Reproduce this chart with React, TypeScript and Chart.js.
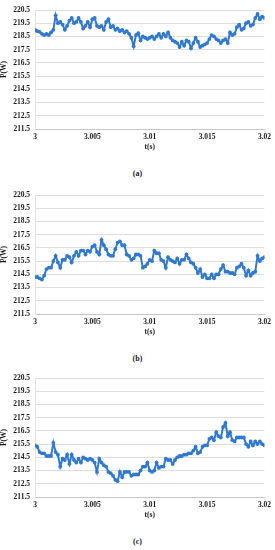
import React, { useEffect, useRef } from "react";
import { Chart, registerables } from "chart.js";

Chart.register(...registerables);

const times = [
  3.0, 3.0002, 3.0004, 3.0006, 3.0008, 3.001, 3.0012, 3.0014, 3.0016, 3.0018,
  3.002, 3.0022, 3.0024, 3.0026, 3.0028, 3.003, 3.0032, 3.0034, 3.0036, 3.0038,
  3.004, 3.0042, 3.0044, 3.0046, 3.0048, 3.005, 3.0052, 3.0054, 3.0056, 3.0058,
  3.006, 3.0062, 3.0064, 3.0066, 3.0068, 3.007, 3.0072, 3.0074, 3.0076, 3.0078,
  3.008, 3.0082, 3.0084, 3.0086, 3.0088, 3.009, 3.0092, 3.0094, 3.0096, 3.0098,
  3.01, 3.0102, 3.0104, 3.0106, 3.0108, 3.011, 3.0112, 3.0114, 3.0116, 3.0118,
  3.012, 3.0122, 3.0124, 3.0126, 3.0128, 3.013, 3.0132, 3.0134, 3.0136, 3.0138,
  3.014, 3.0142, 3.0144, 3.0146, 3.0148, 3.015, 3.0152, 3.0154, 3.0156, 3.0158,
  3.016, 3.0162, 3.0164, 3.0166, 3.0168, 3.017, 3.0172, 3.0174, 3.0176, 3.0178,
  3.018, 3.0182, 3.0184, 3.0186, 3.0188, 3.019, 3.0192, 3.0194, 3.0196, 3.0198,
  3.02,
];

const powerA = [
  219.0, 218.9, 218.85, 218.7, 218.6, 218.7, 218.6, 218.8, 219.0, 220.1,
  219.5, 219.6, 219.4, 219.0, 219.3, 219.7, 219.9, 219.5, 219.6, 219.9,
  219.6, 219.1, 219.3, 219.6, 219.2, 219.8, 219.9, 219.3, 219.2, 219.3,
  219.0, 219.6, 219.8, 219.2, 219.3, 219.0, 219.1, 218.9, 219.0, 218.8,
  218.9, 218.7, 218.4, 217.75, 218.6, 218.75, 218.2, 218.5, 218.4, 218.3,
  218.4, 218.5, 218.3, 218.5, 218.7, 218.4, 218.7, 218.5, 218.8, 218.4,
  218.2, 218.1, 218.0, 217.7, 218.1, 217.8, 218.2, 218.1, 217.6, 218.0,
  218.4, 218.1, 217.7, 217.8, 217.9, 218.0, 218.3, 218.6, 218.5, 218.3,
  218.2, 218.0, 218.2, 218.3, 218.0, 218.8, 218.6, 218.7, 219.2, 219.4,
  219.0, 219.1, 219.5, 219.6, 219.3, 219.4, 219.9, 220.2, 219.8, 220.0,
  219.9,
];

const powerB = [
  214.3, 214.3, 214.2, 214.1, 214.4, 214.9, 215.0, 215.0, 215.5, 215.9,
  215.4, 215.0, 215.6, 215.6, 215.9, 215.8, 215.4, 215.9, 216.2, 215.9,
  216.3, 216.3, 216.0, 216.3, 216.2, 216.6, 216.7, 216.2, 216.0, 217.1,
  216.7, 216.4, 216.0, 215.9, 215.9, 216.4, 216.9, 217.0, 216.7, 216.7,
  216.0, 215.9, 215.6, 215.7, 216.0, 216.0, 215.9, 215.0, 215.1, 215.3,
  215.6, 215.5, 216.3, 216.1, 216.1, 215.6, 215.5, 215.0, 215.8, 215.6,
  215.5, 215.4, 215.7, 215.3, 215.6, 215.6, 216.0, 215.7, 215.4, 215.3,
  215.0, 214.6, 214.9, 214.3, 214.5, 214.2, 214.2, 214.5, 214.2, 214.5,
  214.5, 214.9, 215.2, 214.7, 214.7, 214.6, 214.6, 214.5, 215.0, 215.1,
  215.3, 215.0, 214.4, 214.8, 214.4, 214.6, 214.7, 215.9, 215.5, 215.7,
  215.8,
];

const powerC = [
  215.4, 215.3, 214.9, 214.8, 214.8, 214.6, 214.6, 214.6, 215.6, 214.9,
  214.7, 213.8, 214.4, 214.3, 214.7, 214.0, 214.7, 214.3, 214.1, 214.4,
  214.1, 214.5, 214.4, 214.3, 214.4, 214.3, 214.1, 213.4, 214.4, 214.1,
  213.9, 213.8, 213.4, 213.3, 213.1, 212.8, 212.7, 213.4, 213.0, 213.4,
  213.4, 213.4, 213.1, 213.2, 213.2, 213.2, 213.5, 213.8, 213.8, 214.1,
  213.5, 213.4, 213.5, 214.1, 213.7, 213.8, 213.8, 214.4, 214.3, 214.3,
  214.0, 214.3, 214.5, 214.6, 214.6, 214.7, 214.7, 214.8, 214.8, 215.0,
  215.3, 214.8, 214.9, 215.3, 215.4, 215.4, 215.9, 216.0, 215.8, 216.4,
  216.1, 216.0, 216.8, 217.1, 216.1, 216.4, 215.8, 215.7, 216.0, 216.0,
  216.0, 216.0, 215.5, 215.3, 215.7, 215.4, 215.7, 215.5, 215.7, 215.5,
  215.4,
];

const yMin = 211.5;
const yMax = 220.5;
const xMin = 3;
const xMax = 3.02;

const FONT = "'Liberation Serif', 'Times New Roman', serif";
const LINE = "#2f78d3";

function Panel({ values, caption, top }: { values: number[]; caption: string; top: number }) {
  const ref = useRef<HTMLCanvasElement | null>(null);
  useEffect(() => {
    if (!ref.current) return;
    const chart = new Chart(ref.current, {
      type: "line",
      data: {
        datasets: [
          {
            data: times.map((t, i) => ({ x: t, y: values[i] })),
            borderColor: LINE,
            backgroundColor: LINE,
            borderWidth: 2,
            pointRadius: 1.9,
            pointBorderWidth: 0,
            pointBackgroundColor: LINE,
            tension: 0,
          },
        ],
      },
      options: {
        animation: false,
        responsive: false,
        maintainAspectRatio: false,
        layout: { padding: { left: 0, right: 8, top: 10, bottom: 0 } },
        plugins: { legend: { display: false }, tooltip: { enabled: false } },
        scales: {
          x: {
            type: "linear",
            min: xMin,
            max: xMax,
            grid: { display: true, color: "rgba(0,0,0,0)", drawTicks: false },
            border: { display: true, color: "#c8c8c8", width: 1 },
            ticks: {
              stepSize: 0.005,
              autoSkip: false,
              maxRotation: 0,
              padding: 4,
              color: "#1a1a1a",
              font: { family: FONT, size: 7.5, weight: "bold" },
              callback: (v: any) => String(Math.round(Number(v) * 1000) / 1000),
            },
            title: {
              display: true,
              text: "t(s)",
              color: "#1a1a1a",
              font: { family: FONT, size: 7.5, weight: "bold" },
              padding: { top: 2, bottom: 3 },
            },
            afterFit: (s: any) => {
              s.height = 26;
            },
          },
          y: {
            min: yMin,
            max: yMax,
            grid: { color: "#dedede", drawTicks: false, lineWidth: 1 },
            border: { display: true, color: "#e2e2e2", width: 1 },
            ticks: {
              stepSize: 1,
              padding: 5,
              color: "#1a1a1a",
              font: { family: FONT, size: 7.5, weight: "bold" },
              callback: (v: any) => Number(v).toFixed(1),
            },
            title: {
              display: true,
              text: "P(W)",
              color: "#1a1a1a",
              font: { family: FONT, size: 7.5, weight: "bold" },
              padding: { top: 0, bottom: 0 },
            },
            afterFit: (s: any) => {
              s.width = 35;
            },
          },
        },
      },
    });
    return () => chart.destroy();
  }, [values]);
  return (
    <div style={{ position: "absolute", left: 0, top, width: 275, height: 183 }}>
      <canvas ref={ref} width={275} height={155} style={{ display: "block", width: 275, height: 155 }} />
      <div
        style={{
          position: "absolute",
          left: 0,
          width: 275,
          top: 169,
          textAlign: "center",
          fontFamily: FONT,
          fontSize: 8,
          fontWeight: "bold",
          color: "#1a1a1a",
          lineHeight: "10px",
        }}
      >
        {caption}
      </div>
    </div>
  );
}

export default function App() {
  return (
    <div style={{ position: "absolute", left: 0, top: 0, width: 275, height: 550, background: "#fff" }}>
      <Panel values={powerA} caption="(a)" top={0} />
      <Panel values={powerB} caption="(b)" top={185} />
      <Panel values={powerC} caption="(c)" top={368} />
    </div>
  );
}
